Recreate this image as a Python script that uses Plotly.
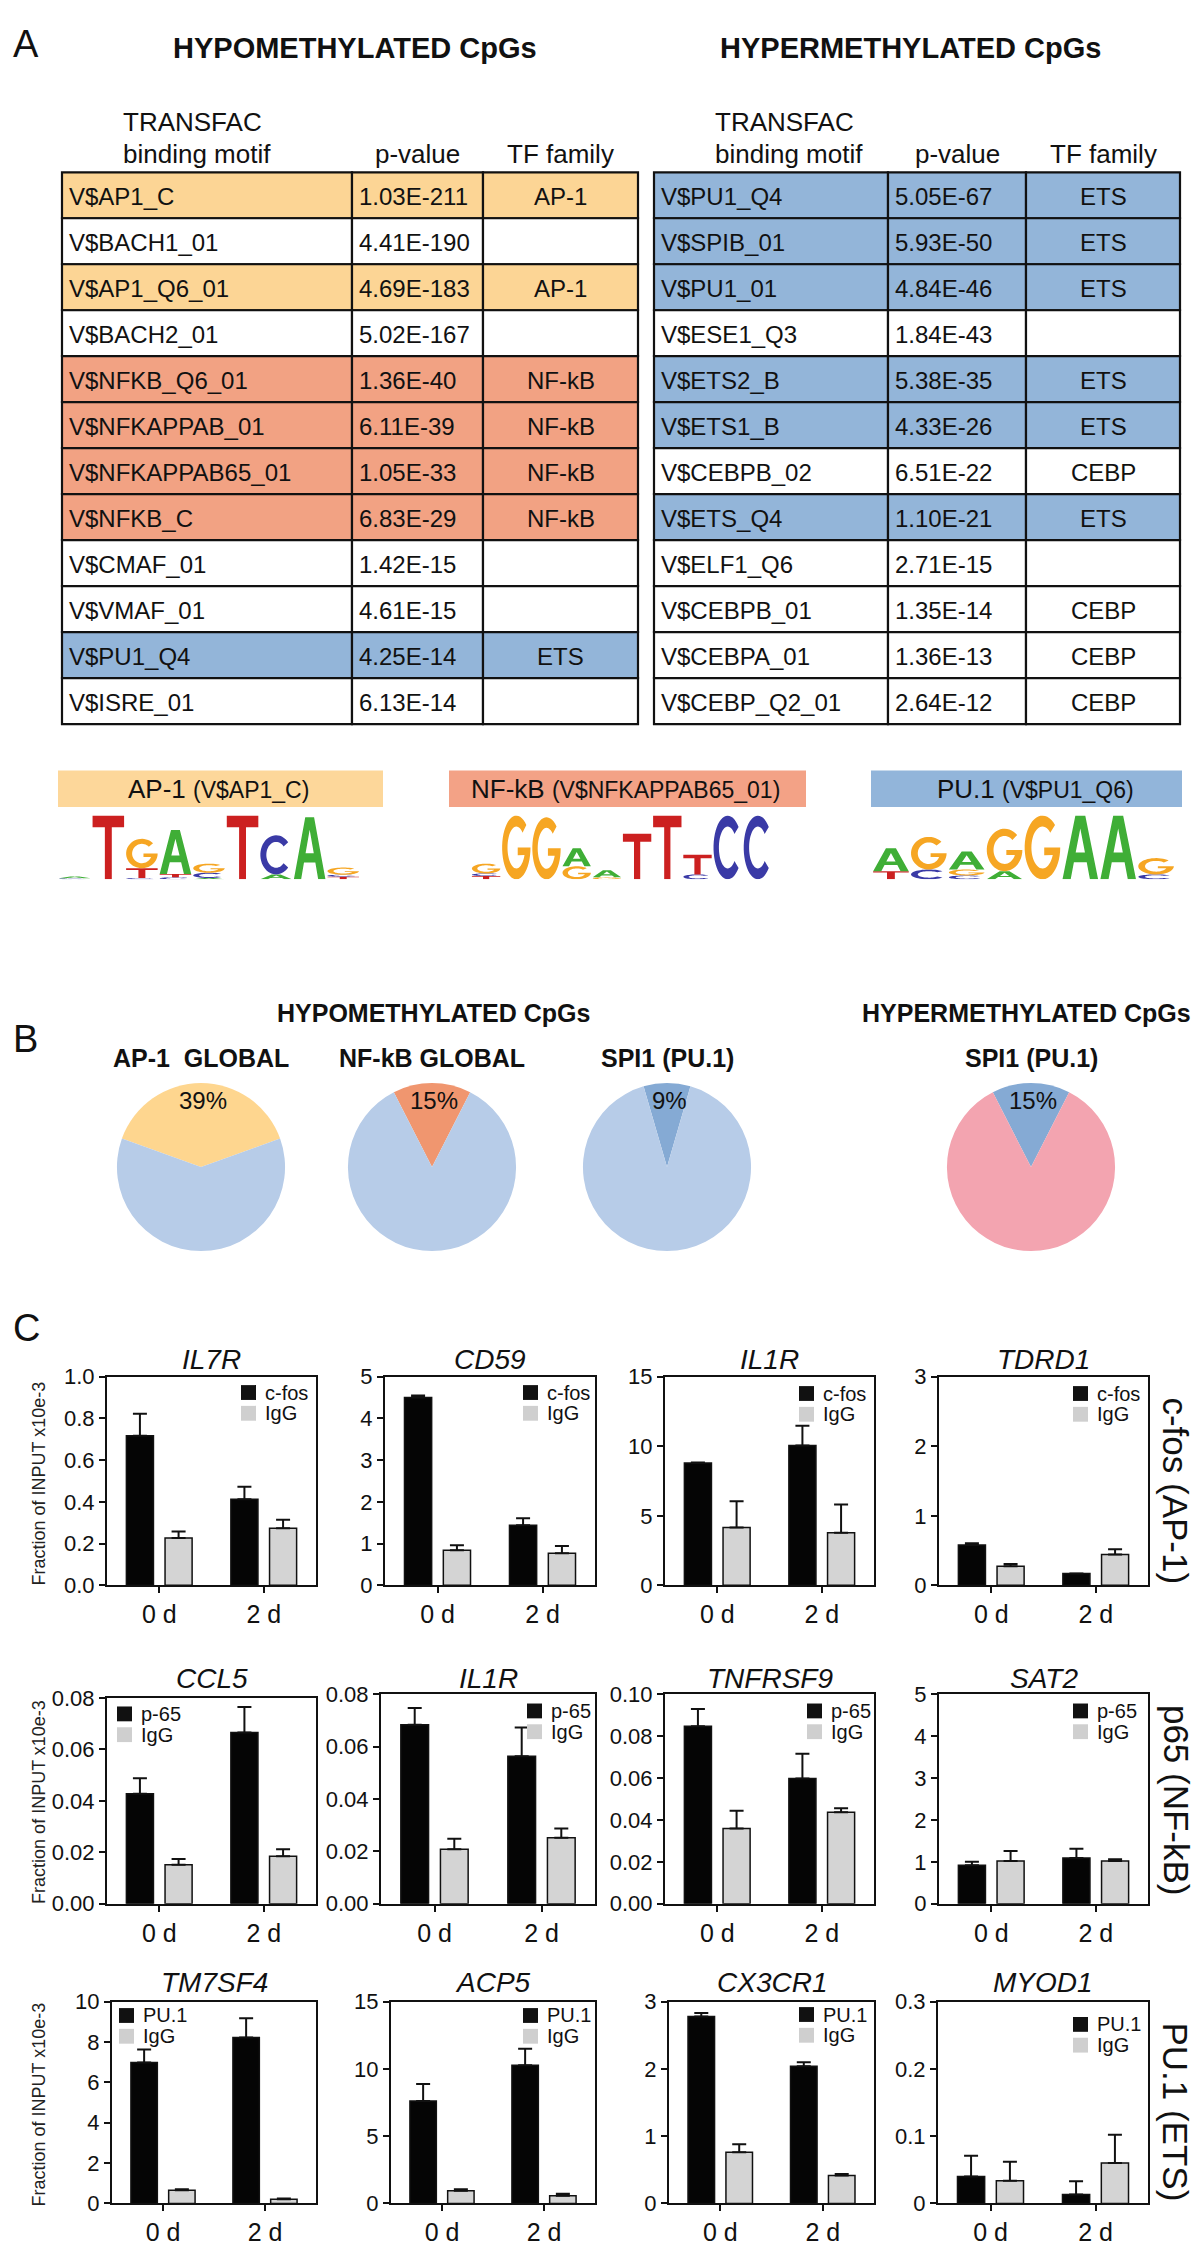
import numpy as np
import plotly.graph_objects as go

W, H = 1200, 2242
FONT = "Liberation Sans, Arial, Helvetica, sans-serif"
INK = "#111111"

# ---------------- panel A: TRANSFAC tables ----------------
hypo_motifs = ["V$AP1_C", "V$BACH1_01", "V$AP1_Q6_01", "V$BACH2_01", "V$NFKB_Q6_01", "V$NFKAPPAB_01",
               "V$NFKAPPAB65_01", "V$NFKB_C", "V$CMAF_01", "V$VMAF_01", "V$PU1_Q4", "V$ISRE_01"]
hypo_pvals = ["1.03E-211", "4.41E-190", "4.69E-183", "5.02E-167", "1.36E-40", "6.11E-39",
              "1.05E-33", "6.83E-29", "1.42E-15", "4.61E-15", "4.25E-14", "6.13E-14"]
hypo_family = ["AP-1", "", "AP-1", "", "NF-kB", "NF-kB", "NF-kB", "NF-kB", "", "", "ETS", ""]

hyper_motifs = ["V$PU1_Q4", "V$SPIB_01", "V$PU1_01", "V$ESE1_Q3", "V$ETS2_B", "V$ETS1_B",
                "V$CEBPB_02", "V$ETS_Q4", "V$ELF1_Q6", "V$CEBPB_01", "V$CEBPA_01", "V$CEBP_Q2_01"]
hyper_pvals = ["5.05E-67", "5.93E-50", "4.84E-46", "1.84E-43", "5.38E-35", "4.33E-26",
               "6.51E-22", "1.10E-21", "2.71E-15", "1.35E-14", "1.36E-13", "2.64E-12"]
hyper_family = ["ETS", "ETS", "ETS", "", "ETS", "ETS", "CEBP", "ETS", "", "CEBP", "CEBP", "CEBP"]

family_colors = {"AP-1": "#fcd595", "NF-kB": "#f2a283", "ETS": "#93b5d9"}

# sequence logos: stacks bottom -> top, heights in bits
logo_names = ["AP-1", "NF-kB", "PU.1"]
logo_motifs = ["V$AP1_C", "V$NFKAPPAB65_01", "V$PU1_Q6"]
ap1_logo = [
    [("C", 0.03), ("A", 0.06)],
    [("T", 1.95)],
    [("C", 0.04), ("T", 0.3), ("G", 0.9)],
    [("C", 0.06), ("T", 0.1), ("A", 1.35)],
    [("A", 0.04), ("C", 0.16), ("G", 0.28)],
    [("T", 1.95)],
    [("A", 0.15), ("C", 1.2)],
    [("A", 1.9)],
    [("T", 0.08), ("C", 0.06), ("G", 0.22)],
]
nfkb_logo = [
    [("T", 0.1), ("C", 0.08), ("G", 0.3)],
    [("G", 1.95)],
    [("G", 1.9)],
    [("G", 0.4), ("A", 0.55)],
    [("G", 0.06), ("A", 0.22)],
    [("T", 1.4)],
    [("T", 1.95)],
    [("C", 0.15), ("T", 0.6)],
    [("C", 1.95)],
    [("C", 1.95)],
]
pu1_logo = [
    [("T", 0.25), ("A", 0.7)],
    [("C", 0.3), ("G", 1.0)],
    [("C", 0.12), ("G", 0.18), ("A", 0.55)],
    [("A", 0.25), ("G", 1.3)],
    [("G", 1.95)],
    [("A", 1.95)],
    [("A", 1.95)],
    [("C", 0.15), ("G", 0.5)],
]
logo_stacks = [ap1_logo, nfkb_logo, pu1_logo]
letter_colors = {"A": "#3fae36", "C": "#3a3aa6", "G": "#f6a623", "T": "#cc2020"}
logo_box_colors = ["#fdd79a", "#f3a286", "#92b5da"]

# ---------------- panel B: pies ----------------
pie_titles = ["AP-1  GLOBAL", "NF-kB GLOBAL", "SPI1 (PU.1)", "SPI1 (PU.1)"]
pie_pct = [39, 15, 9, 15]
pie_slice_colors = ["#fed68f", "#f0966f", "#85aad4", "#85aad4"]
pie_rest_colors = ["#b7cce8", "#b7cce8", "#b7cce8", "#f3a4b0"]

# ---------------- panel C: ChIP bar charts ----------------
days = ["0 d", "2 d"]
genes = ["IL7R", "CD59", "IL1R", "TDRD1",
         "CCL5", "IL1R", "TNFRSF9", "SAT2",
         "TM7SF4", "ACP5", "CX3CR1", "MYOD1"]
antibodies = ["c-fos", "p-65", "PU.1"]
row_labels = ["c-fos (AP-1)", "p65 (NF-kB)", "PU.1 (ETS)"]
ab_mean = [[0.717, 0.413], [4.50, 1.44], [8.79, 10.06], [0.58, 0.17],
           [0.0428, 0.0666], [0.0683, 0.0563], [0.0847, 0.0598], [0.92, 1.09],
           [6.98, 8.22], [7.61, 10.28], [2.78, 2.04], [0.040, 0.0132]]
ab_err = [[0.105, 0.06], [0.05, 0.17], [0.05, 1.42], [0.025, 0.0],
          [0.006, 0.0099], [0.0064, 0.011], [0.0082, 0.0118], [0.08, 0.22],
          [0.65, 0.96], [1.27, 1.22], [0.05, 0.06], [0.031, 0.0196]]
igg_mean = [[0.227, 0.274], [0.84, 0.77], [4.16, 3.78], [0.274, 0.444],
            [0.0152, 0.0185], [0.0208, 0.0252], [0.0359, 0.0436], [1.02, 1.02],
            [0.65, 0.21], [0.93, 0.56], [0.76, 0.416], [0.0338, 0.060]]
igg_err = [[0.031, 0.04], [0.12, 0.17], [1.89, 2.03], [0.033, 0.075],
           [0.0022, 0.0027], [0.004, 0.0035], [0.0085, 0.002], [0.24, 0.04],
           [0.05, 0.03], [0.12, 0.15], [0.12, 0.02], [0.028, 0.042]]
y_max = [1.0, 5, 15, 3, 0.08, 0.08, 0.10, 5, 10, 15, 3, 0.3]
y_dtick = [0.2, 1, 5, 1, 0.02, 0.02, 0.02, 1, 2, 5, 1, 0.1]
y_format = [".1f", "", "", "", ".2f", ".2f", ".2f", "", "", "", "", ""]


def px(x):
    return x / W


def py(y):
    return 1 - y / H


fig = go.Figure()
shapes = []
annotations = []
axes = {}


def text(x, y, s, size, xanchor="center", angle=0, family=FONT, color=INK):
    annotations.append(dict(x=px(x), y=py(y), xref="paper", yref="paper", text=s, showarrow=False,
                            xanchor=xanchor, yanchor="middle", textangle=angle,
                            font=dict(size=size, color=color, family=family)))


def rect(x0, y0, x1, y1, fill, line_w=0, line_c=INK):
    shapes.append(dict(type="rect", xref="paper", yref="paper", x0=px(x0), x1=px(x1), y0=py(y1), y1=py(y0),
                       fillcolor=fill, line=dict(color=line_c, width=line_w)))


# ---- panel A ----
text(3, 24, "A", 38, xanchor="left")
text(347, 28, "<b>HYPOMETHYLATED CpGs</b>", 29)
text(903, 28, "<b>HYPERMETHYLATED CpGs</b>", 29)

table_top, row_h = 154, 46.5
for edges, motifs, pvals, fams in [([54, 344, 475, 630], hypo_motifs, hypo_pvals, hypo_family),
                                   ([646, 880, 1018, 1172], hyper_motifs, hyper_pvals, hyper_family)]:
    text(edges[0] + 59, 103, "TRANSFAC", 26, xanchor="left")
    text(edges[0] + 59, 136, "binding motif", 26, xanchor="left")
    text((edges[1] + edges[2]) / 2, 136, "p-value", 26)
    text((edges[2] + edges[3]) / 2, 136, "TF family", 26)
    for i, (m, p, f) in enumerate(zip(motifs, pvals, fams)):
        y0 = table_top + i * row_h
        fill = family_colors.get(f, "white")
        for c in range(3):
            rect(edges[c], y0, edges[c + 1], y0 + row_h, fill, 2.2)
        yc = y0 + row_h / 2 + 1
        text(edges[0] + 5, yc, m, 24, xanchor="left")
        text(edges[1] + 5, yc, p, 24, xanchor="left")
        if f:
            text((edges[2] + edges[3]) / 2, yc, f, 24)


def glyph(letter):
    if letter == "T":
        return [[(0, 1), (1, 1), (1, .82), (.61, .82), (.61, 0), (.39, 0), (.39, .82), (0, .82)]]
    if letter == "A":
        return [[(0, 0), (.36, 1), (.64, 1), (1, 0), (.77, 0), (.68, .27), (.32, .27), (.23, 0)],
                [(.37, .42), (.63, .42), (.5, .8)]]
    ro, ri = (.5, .5), (.31, .33)
    if letter == "C":
        a_out = np.radians(np.linspace(40, 320, 40))
        ring = [(.5 + ro[0] * np.cos(a), .5 + ro[1] * np.sin(a)) for a in a_out]
        ring += [(.5 + ri[0] * np.cos(a), .5 + ri[1] * np.sin(a)) for a in a_out[::-1]]
        return [ring]
    a_out = np.radians(np.linspace(45, 360, 44))
    a_in = np.radians(np.linspace(339, 45, 40))
    ring = [(.5 + ro[0] * np.cos(a), .5 + ro[1] * np.sin(a)) for a in a_out]
    ring += [(.55, .5), (.55, .38)]
    ring += [(.5 + ri[0] * np.cos(a), .5 + ri[1] * np.sin(a)) for a in a_in]
    return [ring]


logo_boxes = [(50, 375), (441, 798), (863, 1174)]
logo_text_x = [210, 617, 1027]
logo_domains = [(50, 352), (463, 765), (864, 1167)]
for k in range(3):
    rect(logo_boxes[k][0], 759, logo_boxes[k][1], 796, logo_box_colors[k])
    text(logo_text_x[k], 778, f"{logo_names[k]} <span style='font-size:23px'>({logo_motifs[k]})</span>", 26)
    n = str(13 + k)
    xa, ya = "x" + n, "y" + n
    stack = logo_stacks[k]
    axes["xaxis" + n] = dict(domain=[px(logo_domains[k][0]), px(logo_domains[k][1])], anchor=ya,
                             range=[0, len(stack)], visible=False, fixedrange=True)
    axes["yaxis" + n] = dict(domain=[py(869), py(803)], anchor=xa, range=[0, 2], visible=False, fixedrange=True)
    fig.add_trace(go.Scatter(x=[0], y=[0], mode="none", xaxis=xa, yaxis=ya, showlegend=False, hoverinfo="skip"))
    for pos, col in enumerate(stack):
        base = 0.0
        for letter, h in col:
            d = ""
            for ring in glyph(letter):
                pts = [f"{pos + 0.03 + u * 0.94:.4f},{base + v * h:.4f}" for u, v in ring]
                d += "M" + " L".join(pts) + " Z "
            shapes.append(dict(type="path", xref=xa, yref=ya, path=d, fillcolor=letter_colors[letter],
                               line=dict(width=0), fillrule="evenodd"))
            base += h

# ---- panel B ----
text(3, 1030, "B", 38, xanchor="left")
text(425, 1004, "<b>HYPOMETHYLATED CpGs</b>", 25)
text(1018, 1004, "<b>HYPERMETHYLATED CpGs</b>", 25)
pie_cx = [193, 424, 659, 1023]
pie_cy, pie_r = 1160, 85
for k in range(4):
    cx = pie_cx[k]
    fig.add_trace(go.Pie(values=[pie_pct[k], 100 - pie_pct[k]], sort=False, direction="clockwise",
                         rotation=-pie_pct[k] * 1.8, textinfo="none", showlegend=False, hoverinfo="skip",
                         marker=dict(colors=[pie_slice_colors[k], pie_rest_colors[k]], line=dict(width=0)),
                         domain=dict(x=[px(cx - pie_r), px(cx + pie_r)], y=[py(pie_cy + pie_r), py(pie_cy - pie_r)])))
    text(cx, 1050, f"<b>{pie_titles[k]}</b>", 25)
    text(cx + 2, pie_cy - 0.79 * pie_r, f"{pie_pct[k]}%", 24)

# ---- panel C ----
text(3, 1323, "C", 38, xanchor="left")
chart_boxes = [(99, 308, 1372, 1583), (377, 587, 1372, 1583), (657, 866, 1372, 1583), (931, 1140, 1372, 1583),
               (99, 308, 1697, 1905), (373, 587, 1693, 1905), (657, 866, 1693, 1905), (931, 1140, 1693, 1905),
               (104, 308, 2004, 2208), (383, 587, 2004, 2208), (661, 866, 2004, 2208), (930, 1140, 2004, 2208)]
legend_pos = [(233, 1388), (515, 1388), (791, 1389), (1065, 1389),
              (109, 1713), (519, 1710), (799, 1710), (1065, 1710),
              (111, 2018), (515, 2018), (791, 2017), (1065, 2027)]
title_y = [1355, 1677, 1985]
for i, gene in enumerate(genes):
    n = "" if i == 0 else str(i + 1)
    xa, ya = "x" + n, "y" + n
    x0, x1, y0, y1 = chart_boxes[i]
    row = i // 4
    ab = antibodies[row]
    fig.add_trace(go.Bar(x=days, y=ab_mean[i], name=ab, xaxis=xa, yaxis=ya, showlegend=False,
                         marker=dict(color="#050505", line=dict(color=INK, width=1.5)),
                         error_y=dict(type="data", array=ab_err[i], arrayminus=[0, 0], symmetric=False,
                                      color=INK, thickness=2, width=7)))
    fig.add_trace(go.Bar(x=days, y=igg_mean[i], name="IgG", xaxis=xa, yaxis=ya, showlegend=False,
                         marker=dict(color="#d4d4d4", line=dict(color=INK, width=1.5)),
                         error_y=dict(type="data", array=igg_err[i], arrayminus=[0, 0], symmetric=False,
                                      color=INK, thickness=2, width=7)))
    axes["xaxis" + n] = dict(domain=[px(x0), px(x1)], anchor=ya, type="category", range=[-0.5, 1.5],
                             showline=True, mirror=True, linecolor=INK, linewidth=2, ticks="outside",
                             ticklen=6, tickwidth=2, tickcolor=INK, showgrid=False, fixedrange=True,
                             tickfont=dict(size=25, color=INK, family=FONT))
    axes["yaxis" + n] = dict(domain=[py(y1), py(y0)], anchor=xa, range=[0, y_max[i]], tick0=0, dtick=y_dtick[i],
                             tickformat=y_format[i], showline=True, mirror=True, linecolor=INK, linewidth=2,
                             ticks="outside", ticklen=6, tickwidth=2, tickcolor=INK, showgrid=False,
                             zeroline=False, fixedrange=True, tickfont=dict(size=22, color=INK, family=FONT))
    text((x0 + x1) / 2, title_y[row], f"<i>{gene}</i>", 28)
    lx, ly = legend_pos[i]
    for j, (lab, col) in enumerate([(ab, "#111111"), ("IgG", "#cfcfcf")]):
        yy = ly + j * 21
        rect(lx, yy - 7.5, lx + 15, yy + 7.5, col)
        text(lx + 22, yy, lab, 20, xanchor="left")

for row, yc in enumerate([1480, 1802, 2108]):
    text(31, yc, "Fraction of INPUT x10e-3", 18, angle=-90, color="#222222")
for row, yc in enumerate([1487, 1800, 2115]):
    text(1168, yc, row_labels[row], 35, angle=90)

fig.update_layout(width=W, height=H, margin=dict(l=0, r=0, t=0, b=0), paper_bgcolor="white",
                  plot_bgcolor="rgba(0,0,0,0)", bargap=0.26, bargroupgap=0.3, barmode="group",
                  showlegend=False, font=dict(family=FONT, color=INK), shapes=shapes,
                  annotations=annotations, **axes)
fig.write_html("out.html")
